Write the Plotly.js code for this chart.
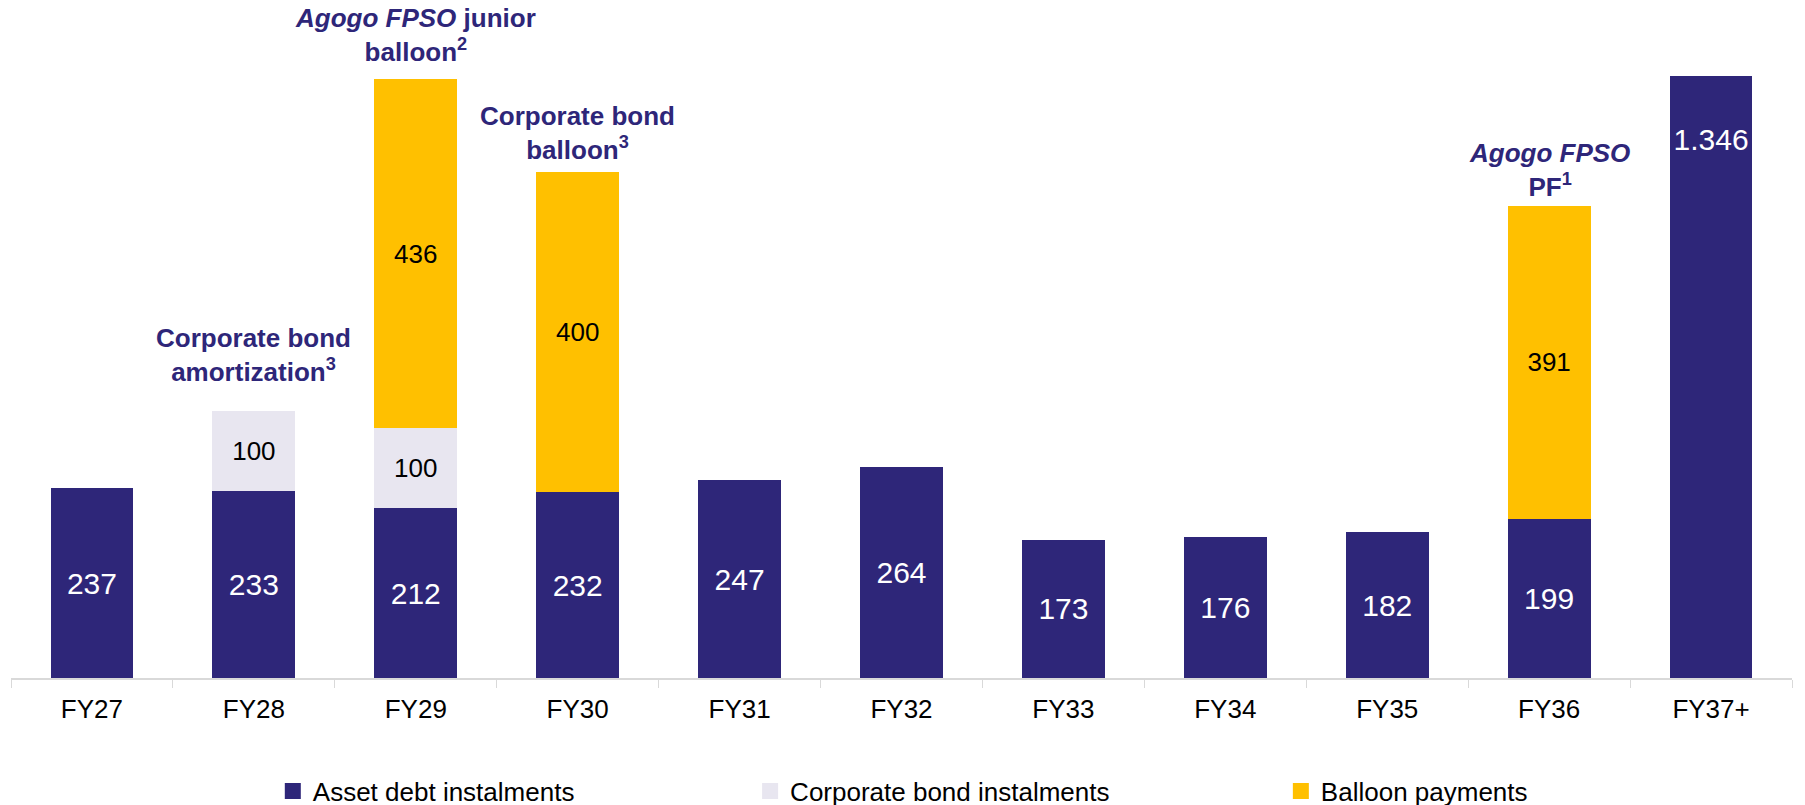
<!DOCTYPE html>
<html>
<head>
<meta charset="utf-8">
<script src="https://cdn.plot.ly/plotly-3.0.1.min.js"></script>
<style>html,body{margin:0;padding:0;background:#fff;}#chart{width:1805px;height:805px;}</style>
</head>
<body>
<div id="chart"></div>
<script>
// ---- data ----
var categories = ['FY27','FY28','FY29','FY30','FY31','FY32','FY33','FY34','FY35','FY36','FY37+'];
var assetDebt = [237, 233, 212, 232, 247, 264, 173, 176, 182, 199, 1346];
var corporateBond = [null, 100, 100, null, null, null, null, null, null, null, null];
var balloon = [null, null, 436, 400, null, null, null, null, null, 391, null];
var seriesNames = ['Asset debt instalments', 'Corporate bond instalments', 'Balloon payments'];
var noteCategories = ['FY28', 'FY29', 'FY30', 'FY36'];
var noteTexts = [
  '<b>Corporate bond<br>amortization<sup>3</sup></b>',
  '<b><i>Agogo FPSO</i> junior<br>balloon<sup>2</sup></b>',
  '<b>Corporate bond<br>balloon<sup>3</sup></b>',
  '<b><i>Agogo FPSO</i><br>PF<sup>1</sup></b>'
];

// ---- style ----
var NAVY = '#2E2679', GREY = '#E8E6F0', GOLD = '#FFC000';
var FONT = 'Liberation Sans, Arial, sans-serif';
var noteShift = [22, 10, 5, 2];

function barTrace(vals, name, color, textColor, textSize) {
  return {
    type: 'bar', x: categories, y: vals, name: name, showlegend: false,
    marker: {color: color, line: {width: 0}},
    texttemplate: '%{y:,}', textposition: 'inside', insidetextanchor: 'middle',
    textangle: 0, constraintext: 'none', cliponaxis: true,
    textfont: {family: FONT, size: textSize, color: textColor},
    hoverinfo: 'x+y+name'
  };
}
function legendTrace(name, color, legendId) {
  return {
    type: 'scatter', mode: 'markers', x: [null], y: [null], name: name,
    legend: legendId, showlegend: true,
    marker: {symbol: 'square', size: 16, color: color}
  };
}

var traces = [
  barTrace(assetDebt, seriesNames[0], NAVY, '#FFFFFF', 30),
  barTrace(corporateBond, seriesNames[1], GREY, '#000000', 26),
  barTrace(balloon, seriesNames[2], GOLD, '#000000', 26),
  legendTrace(seriesNames[0], NAVY, 'legend'),
  legendTrace(seriesNames[1], GREY, 'legend2'),
  legendTrace(seriesNames[2], GOLD, 'legend3')
];

function total(cat) {
  var i = categories.indexOf(cat);
  return (assetDebt[i] || 0) + (corporateBond[i] || 0) + (balloon[i] || 0);
}
var annotations = noteCategories.map(function (c, k) {
  return {
    x: c, y: total(c), xref: 'x', yref: 'y', text: noteTexts[k], showarrow: false,
    xanchor: 'center', yanchor: 'bottom', yshift: noteShift[k],
    font: {family: FONT, size: 26, color: NAVY}
  };
});

function legendLayout(x) {
  return {
    orientation: 'h', x: x, xanchor: 'left', y: -0.188, yanchor: 'middle',
    xref: 'paper', yref: 'paper', bgcolor: 'rgba(0,0,0,0)',
    font: {family: FONT, size: 26, color: '#000000'}
  };
}

var layout = {
  width: 1805, height: 805,
  margin: {l: 11, r: 13, t: 76, b: 127, pad: 0, autoexpand: false},
  paper_bgcolor: '#FFFFFF', plot_bgcolor: '#FFFFFF',
  barmode: 'stack', bargap: 0.488,
  separators: ',.',
  font: {family: FONT, size: 26, color: '#000000'},
  xaxis: {
    type: 'category', showline: true, linecolor: '#D9D9D9', linewidth: 2,
    ticks: 'outside', tickson: 'boundaries', ticklen: 8, tickcolor: '#D9D9D9', tickwidth: 1,
    ticklabelstandoff: 7,
    tickfont: {family: FONT, size: 26, color: '#000000'},
    showgrid: false, zeroline: false, fixedrange: true
  },
  yaxis: {range: [0, 752], visible: false, showgrid: false, zeroline: false, fixedrange: true},
  annotations: annotations,
  legend: legendLayout(0.147),
  legend2: legendLayout(0.415),
  legend3: legendLayout(0.713),
  showlegend: true
};

Plotly.newPlot('chart', traces, layout, {displayModeBar: false, responsive: false});
</script>
</body>
</html>
